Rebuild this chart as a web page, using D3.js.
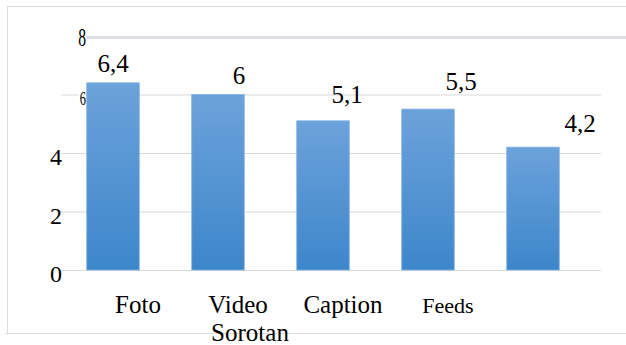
<!DOCTYPE html>
<html>
<head>
<meta charset="utf-8">
<script src="https://cdn.jsdelivr.net/npm/d3@7"></script>
<style>
  html, body { margin: 0; padding: 0; background: #fff; }
  svg { display: block; }
</style>
</head>
<body>
<svg id="chart" width="626" height="345"></svg>
<script>
// Data
const categories = ["Foto", "Video Sorotan", "Caption", "Feeds", ""];
const values = [6.4, 6, 5.1, 5.5, 4.2];
const valueLabels = ["6,4", "6", "5,1", "5,5", "4,2"];
const yTicks = [0, 2, 4, 6, 8];
const yTickLabels = ["0", "2", "4", "6", "8"];

// Layout offsets for the value labels and category labels
const valueLabelDx = [0, 21, 24, 33, 47];
const valueLabelDy = [-11, -11, -18, -19, -15];
const catLabelDx = [25, 20, 20, 20, 20];
const catLabelSize = [25, 25, 25, 22, 25];

const W = 626, H = 345;
const svg = d3.select("#chart")
  .attr("font-family", "'Liberation Serif', 'Times New Roman', Times, serif")
  .attr("fill", "#000");

const x = d3.scaleBand()
  .domain(categories)
  .range([60.5, 585.5])
  .paddingInner(0.5)
  .paddingOuter(0.25);

const y = d3.scaleLinear().domain([0, 8]).range([270, 36]);

// Outer frame
const frameColor = "#dcdcdc";
svg.append("line").attr("x1", 7).attr("x2", W).attr("y1", 6.5).attr("y2", 6.5)
  .attr("stroke", frameColor);
svg.append("line").attr("x1", 7.5).attr("x2", 7.5).attr("y1", 6).attr("y2", 333)
  .attr("stroke", frameColor);
svg.append("line").attr("x1", 5).attr("x2", W).attr("y1", 333.5).attr("y2", 333.5)
  .attr("stroke", frameColor);

// Gridlines for 0–6
const grid = svg.append("g")
  .attr("transform", "translate(61,0)")
  .call(d3.axisRight(y).tickValues(yTicks.filter(v => v < 8)).tickSize(540).tickFormat(""));
grid.select(".domain").remove();
grid.selectAll(".tick line").attr("stroke", "#d9d9d9");

// Heavier top gridline at 8
svg.append("line")
  .attr("x1", 86).attr("x2", W)
  .attr("y1", y(8) + 1.5).attr("y2", y(8) + 1.5)
  .attr("stroke", "#dde1e7").attr("stroke-width", 3);

// Y tick labels: 0, 2, 4 large; 6 and 8 narrow next to the plot
yTicks.forEach((v, i) => {
  if (v <= 4) {
    svg.append("text")
      .attr("x", 62).attr("y", y(v) + 12)
      .attr("text-anchor", "end")
      .attr("font-size", 24)
      .text(yTickLabels[i]);
  } else {
    const big = v === 8;
    svg.append("text")
      .attr("transform", `translate(86,${y(v) + (big ? 10 : 10)}) scale(${big ? 0.6 : 0.65},1)`)
      .attr("text-anchor", "end")
      .attr("font-size", big ? 26 : 19)
      .attr("stroke", "#fff").attr("stroke-width", 4)
      .attr("paint-order", "stroke")
      .text(yTickLabels[i]);
  }
});

// Bar gradient
const defs = svg.append("defs");
const grad = defs.append("linearGradient")
  .attr("id", "barGrad").attr("x1", 0).attr("y1", 0).attr("x2", 0).attr("y2", 1);
grad.append("stop").attr("offset", "0%").attr("stop-color", "#6ca2db");
grad.append("stop").attr("offset", "100%").attr("stop-color", "#3d86ca");

// Bars
svg.append("g").selectAll("rect")
  .data(values)
  .join("rect")
  .attr("x", (d, i) => x(categories[i]))
  .attr("y", d => y(d))
  .attr("width", x.bandwidth())
  .attr("height", d => y(0) - y(d))
  .attr("fill", "url(#barGrad)")
  .attr("stroke", "#7eb0e2")
  .attr("stroke-width", 0.8);

// Value labels
svg.append("g").selectAll("text")
  .data(values)
  .join("text")
  .attr("x", (d, i) => x(categories[i]) + x.bandwidth() / 2 + valueLabelDx[i])
  .attr("y", (d, i) => y(d) + valueLabelDy[i])
  .attr("text-anchor", "middle")
  .attr("font-size", 25)
  .text((d, i) => valueLabels[i]);

// Category labels (multi-word names wrap onto a second line)
categories.forEach((c, i) => {
  if (!c) return;
  const cx = x(c) + x.bandwidth() / 2 + catLabelDx[i];
  const words = c.split(" ");
  const t = svg.append("text")
    .attr("text-anchor", "middle")
    .attr("font-size", catLabelSize[i]);
  words.forEach((w, k) => {
    t.append("tspan")
      .attr("x", cx + k * 12)
      .attr("y", 313 + k * 28)
      .text(w);
  });
});
</script>
</body>
</html>
